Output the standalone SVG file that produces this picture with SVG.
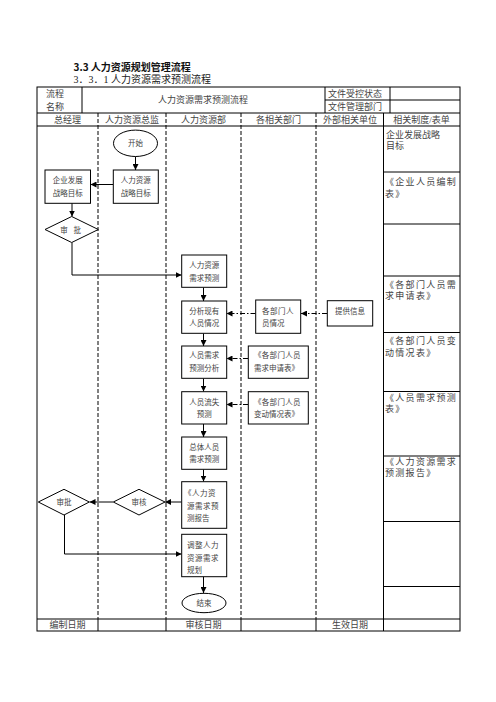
<svg xmlns="http://www.w3.org/2000/svg" width="496" height="702" viewBox="0 0 496 702">
<style>
text{font-family:"Liberation Serif","Noto Sans CJK SC",serif;fill:#444;}
.h1{font-family:"Noto Sans CJK SC","Liberation Sans",sans-serif;font-weight:bold;font-size:10px;fill:#111;}
.h2{font-size:10px;fill:#222;}
.hd{font-size:9px;}
.c{text-anchor:middle;}
.n{font-size:7.5px;}
.r{font-size:9px;}
.rj{font-size:9px;letter-spacing:1.3px;}
.tb{fill:none;stroke:#000;stroke-width:1;}
.lane{fill:none;stroke:#000;stroke-width:1;stroke-dasharray:4 2;}
.box{fill:#fff;stroke:#000;stroke-width:1;}
.ar{fill:none;stroke:#000;stroke-width:1;marker-end:url(#ah);}
.dd{fill:none;stroke:#000;stroke-width:1;stroke-dasharray:5 2 1.5 2;marker-end:url(#ah);}
</style>
<defs>
<marker id="ah" markerUnits="userSpaceOnUse" markerWidth="6" markerHeight="6" refX="6" refY="3" orient="auto">
<path d="M0,0 L6,3 L0,6 z" fill="#000"/>
</marker>
</defs>
<rect width="496" height="702" fill="#fff"/>
<text class="h1" x="73.5" y="70.5">3.3 人力资源规划管理流程</text>
<text class="h2" x="73.5" y="83">3．3．1 人力资源需求预测流程</text>
<g id="table">
<rect class="tb" x="37" y="87" width="423" height="544"/>
<line class="tb" x1="82" y1="87" x2="82" y2="113"/>
<line class="tb" x1="325" y1="87" x2="325" y2="113"/>
<line class="tb" x1="390" y1="87" x2="390" y2="113"/>
<line class="tb" x1="325" y1="100" x2="460" y2="100"/>
<line class="tb" x1="37" y1="113" x2="460" y2="113"/>
<line class="tb" x1="37" y1="126" x2="460" y2="126"/>
<line class="tb" x1="37" y1="619" x2="460" y2="619"/>
<line class="lane" x1="98" y1="113" x2="98" y2="619"/>
<line class="lane" x1="166" y1="113" x2="166" y2="619"/>
<line class="lane" x1="241" y1="113" x2="241" y2="619"/>
<line class="lane" x1="316" y1="113" x2="316" y2="619"/>
<line class="tb" x1="383.5" y1="113" x2="383.5" y2="631"/>
<line class="tb" x1="98" y1="619" x2="98" y2="631"/>
<line class="tb" x1="166" y1="619" x2="166" y2="631"/>
<line class="tb" x1="241" y1="619" x2="241" y2="631"/>
<line class="tb" x1="316" y1="619" x2="316" y2="631"/>
<line class="tb" x1="383.5" y1="172" x2="460" y2="172"/>
<line class="tb" x1="383.5" y1="224" x2="460" y2="224"/>
<line class="tb" x1="383.5" y1="276" x2="460" y2="276"/>
<line class="tb" x1="383.5" y1="332.5" x2="460" y2="332.5"/>
<line class="tb" x1="383.5" y1="391.5" x2="460" y2="391.5"/>
<line class="tb" x1="383.5" y1="456" x2="460" y2="456"/>
<line class="tb" x1="383.5" y1="521.5" x2="460" y2="521.5"/>
<line class="tb" x1="383.5" y1="586.5" x2="460" y2="586.5"/>
<text class="hd" x="46" y="96.5">流程</text>
<text class="hd" x="46" y="109.5">名称</text>
<text class="hd c" x="203" y="103">人力资源需求预测流程</text>
<text class="hd" x="328" y="97">文件受控状态</text>
<text class="hd" x="328" y="110">文件管理部门</text>
<text class="hd c" x="67.5" y="122.5">总经理</text>
<text class="hd c" x="132" y="122.5">人力资源总监</text>
<text class="hd c" x="203.5" y="122.5">人力资源部</text>
<text class="hd c" x="278.5" y="122.5">各相关部门</text>
<text class="hd c" x="350" y="122.5">外部相关单位</text>
<text class="hd c" x="421.5" y="122.5">相关制度/表单</text>
<text class="hd c" x="67.5" y="628">编制日期</text>
<text class="hd c" x="203.5" y="628">审核日期</text>
<text class="hd c" x="350" y="628">生效日期</text>
<text class="r" x="386" y="137.5">企业发展战略</text>
<text class="r" x="386" y="149">目标</text>
<text class="rj" x="385" y="185">《企业人员编制</text>
<text class="rj" x="385" y="197">表》</text>
<text class="rj" x="385" y="287.5">《各部门人员需</text>
<text class="rj" x="385" y="299">求申请表》</text>
<text class="rj" x="385" y="344">《各部门人员变</text>
<text class="rj" x="385" y="355.5">动情况表》</text>
<text class="rj" x="385" y="400.5">《人员需求预测</text>
<text class="rj" x="385" y="412">表》</text>
<text class="rj" x="385" y="464.5">《人力资源需求</text>
<text class="rj" x="385" y="476">预测报告》</text>
</g>
<g id="connectors">
<line class="ar" x1="135.5" y1="156.5" x2="135.5" y2="170"/>
<line class="ar" x1="113" y1="184.5" x2="90.5" y2="184.5"/>
<line class="ar" x1="72" y1="203" x2="72" y2="216.5"/>
<polyline class="ar" points="72,242.5 72,275 181.5,275"/>
<line class="ar" x1="203.5" y1="287.5" x2="203.5" y2="301"/>
<line class="ar" x1="203.5" y1="333.5" x2="203.5" y2="346"/>
<line class="ar" x1="203.5" y1="378.5" x2="203.5" y2="391.5"/>
<line class="ar" x1="203.5" y1="424" x2="203.5" y2="437"/>
<line class="ar" x1="203.5" y1="469.5" x2="203.5" y2="481.5"/>
<line class="ar" x1="181.5" y1="502" x2="165" y2="502"/>
<line class="ar" x1="113" y1="502" x2="89.5" y2="502"/>
<polyline class="ar" points="64.5,515 64.5,554 181.5,554"/>
<line class="ar" x1="203.5" y1="576.5" x2="203.5" y2="593"/>
<line class="dd" x1="327" y1="313.5" x2="301" y2="313.5"/>
<line class="dd" x1="255.5" y1="313.5" x2="226.5" y2="313.5"/>
<line class="dd" x1="248" y1="358.5" x2="226.5" y2="358.5"/>
<line class="dd" x1="248" y1="404.5" x2="226.5" y2="404.5"/>
</g>
<g id="start">
<ellipse class="box" cx="135.5" cy="143.3" rx="22" ry="13.2"/>
<text class="n c" x="135.5" y="146">开始</text>
</g>
<g id="hr-strategy">
<rect class="box" x="113.3" y="170" width="45" height="33.3"/>
<text class="n c" x="135.8" y="183">人力资源</text>
<text class="n c" x="135.8" y="196">战略目标</text>
</g>
<g id="corp-strategy">
<rect class="box" x="45" y="170" width="45.5" height="33.3"/>
<text class="n c" x="67.8" y="183">企业发展</text>
<text class="n c" x="67.8" y="196">战略目标</text>
</g>
<g id="approve1">
<polygon class="box" points="71.7,216.5 98.3,229.5 71.7,242.5 45,229.5"/>
<text class="n c" x="71.7" y="232.5" style="letter-spacing:2px">审 批</text>
</g>
<g id="hr-demand">
<rect class="box" x="181.7" y="255" width="45" height="32.3"/>
<text class="n c" x="204.2" y="268">人力资源</text>
<text class="n c" x="204.2" y="280.5">需求预测</text>
</g>
<g id="analyze">
<rect class="box" x="181.7" y="301" width="45" height="32.3"/>
<text class="n c" x="204.2" y="313.5">分析现有</text>
<text class="n c" x="204.2" y="326">人员情况</text>
</g>
<g id="dept-status">
<rect class="box" x="255.7" y="300" width="45" height="33.3"/>
<text class="n" x="262" y="313.5" style="letter-spacing:0.5px">各部门人</text>
<text class="n" x="262" y="326">员情况</text>
</g>
<g id="info">
<rect class="box" x="327.3" y="300.7" width="45.4" height="25.3"/>
<text class="n c" x="350" y="313.5">提供信息</text>
</g>
<g id="demand-analysis">
<rect class="box" x="181.7" y="346" width="45" height="32.3"/>
<text class="n c" x="204.2" y="358">人员需求</text>
<text class="n c" x="204.2" y="371">预测分析</text>
</g>
<g id="dept-demand-form">
<rect class="box" x="248.3" y="346" width="60" height="32.3"/>
<text class="n" x="254" y="358" style="letter-spacing:0.3px">《各部门人员</text>
<text class="n" x="254" y="371">需求申请表》</text>
</g>
<g id="attrition">
<rect class="box" x="181.7" y="391.7" width="45" height="32.3"/>
<text class="n c" x="204.2" y="405">人员流失</text>
<text class="n c" x="204.2" y="417">预测</text>
</g>
<g id="dept-change-form">
<rect class="box" x="248.3" y="391.7" width="60" height="32.3"/>
<text class="n" x="254" y="405" style="letter-spacing:0.3px">《各部门人员</text>
<text class="n" x="254" y="417">变动情况表》</text>
</g>
<g id="total-demand">
<rect class="box" x="181.7" y="437" width="45" height="32.3"/>
<text class="n c" x="204.2" y="449.5">总体人员</text>
<text class="n c" x="204.2" y="462">需求预测</text>
</g>
<g id="report">
<rect class="box" x="181.7" y="481.7" width="45" height="46.6"/>
<text class="n" x="184" y="496" style="letter-spacing:0.5px">《人力资</text>
<text class="n" x="187" y="508.5" style="letter-spacing:0.5px">源需求预</text>
<text class="n" x="187" y="521">测报告</text>
</g>
<g id="review">
<polygon class="box" points="139,489.3 165,502 139,515 113.3,502"/>
<text class="n c" x="139" y="504.7">审核</text>
</g>
<g id="approve2">
<polygon class="box" points="64,489.3 89.3,502 64,515 38.3,502"/>
<text class="n c" x="64" y="504.7">审批</text>
</g>
<g id="adjust">
<rect class="box" x="181.7" y="534.3" width="45" height="42.4"/>
<text class="n" x="187" y="548" style="letter-spacing:0.5px">调整人力</text>
<text class="n" x="187" y="560.5" style="letter-spacing:0.5px">资源需求</text>
<text class="n" x="187" y="573">规划</text>
</g>
<g id="end">
<ellipse class="box" cx="204" cy="603" rx="22" ry="9.7"/>
<text class="n c" x="204" y="605.7">结束</text>
</g>
</svg>
